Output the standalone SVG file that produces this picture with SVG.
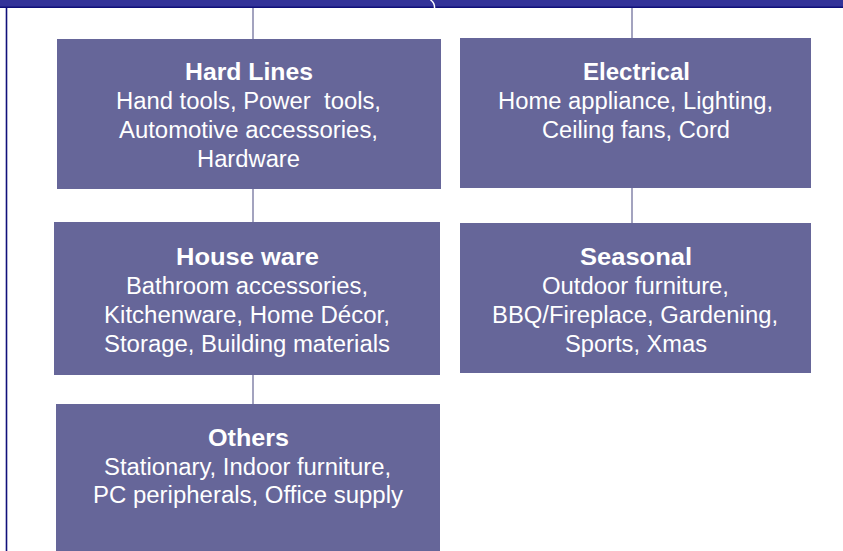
<svg xmlns="http://www.w3.org/2000/svg" width="843" height="551" viewBox="0 0 843 551">
<style>
.box{fill:#666699;}
.t{font-family:"Liberation Sans",Arial,sans-serif;fill:#ffffff;text-anchor:middle;}
.h{font-size:24px;font-weight:bold;}
.b{font-size:23px;}
.c{stroke:#8484aa;stroke-width:1.5;fill:none;}
</style>
<rect width="843" height="551" fill="#ffffff"/>
<g id="frame">
<rect x="0" y="0" width="843" height="7" fill="#333399"/>
<line x1="0" y1="7.2" x2="843" y2="7.2" stroke="#10107a" stroke-width="1.6"/>
<line x1="6.5" y1="7" x2="6.5" y2="551" stroke="#10107a" stroke-width="1.6"/>
<path d="M430.5,0 Q435,3 434.5,8.5" stroke="#ffffff" stroke-width="1.5" fill="none"/>
</g>
<g id="connectors">
<line class="c" x1="253" y1="8" x2="253" y2="39"/>
<line class="c" x1="253" y1="189" x2="253" y2="222"/>
<line class="c" x1="253" y1="375" x2="253" y2="404"/>
<line class="c" x1="632" y1="8" x2="632" y2="38"/>
<line class="c" x1="632" y1="188" x2="632" y2="223"/>
</g>
<g id="hardlines">
<rect class="box" x="57" y="39" width="384" height="150"/>
<text class="t h" x="249" y="80" textLength="128" lengthAdjust="spacingAndGlyphs">Hard Lines</text>
<text class="t b" x="248.5" y="109" textLength="265" lengthAdjust="spacingAndGlyphs" xml:space="preserve">Hand tools, Power  tools,</text>
<text class="t b" x="248.5" y="138" textLength="259" lengthAdjust="spacingAndGlyphs">Automotive accessories,</text>
<text class="t b" x="248.5" y="167" textLength="103" lengthAdjust="spacingAndGlyphs">Hardware</text>
</g>
<g id="electrical">
<rect class="box" x="460" y="38" width="351" height="150"/>
<text class="t h" x="636.5" y="80" textLength="107" lengthAdjust="spacingAndGlyphs">Electrical</text>
<text class="t b" x="635.5" y="109" textLength="275" lengthAdjust="spacingAndGlyphs">Home appliance, Lighting,</text>
<text class="t b" x="636" y="138" textLength="188" lengthAdjust="spacingAndGlyphs">Ceiling fans, Cord</text>
</g>
<g id="houseware">
<rect class="box" x="54" y="222" width="386" height="153"/>
<text class="t h" x="247.5" y="265" textLength="143" lengthAdjust="spacingAndGlyphs">House ware</text>
<text class="t b" x="247" y="294" textLength="242" lengthAdjust="spacingAndGlyphs">Bathroom accessories,</text>
<text class="t b" x="247" y="323" textLength="286" lengthAdjust="spacingAndGlyphs">Kitchenware, Home Décor,</text>
<text class="t b" x="247" y="352" textLength="286" lengthAdjust="spacingAndGlyphs">Storage, Building materials</text>
</g>
<g id="seasonal">
<rect class="box" x="460" y="223" width="351" height="150"/>
<text class="t h" x="636" y="265" textLength="112" lengthAdjust="spacingAndGlyphs">Seasonal</text>
<text class="t b" x="635.5" y="294" textLength="187" lengthAdjust="spacingAndGlyphs">Outdoor furniture,</text>
<text class="t b" x="635" y="323" textLength="286" lengthAdjust="spacingAndGlyphs">BBQ/Fireplace, Gardening,</text>
<text class="t b" x="636" y="352" textLength="142" lengthAdjust="spacingAndGlyphs">Sports, Xmas</text>
</g>
<g id="others">
<rect class="box" x="56" y="404" width="384" height="147"/>
<text class="t h" x="248.5" y="446" textLength="81" lengthAdjust="spacingAndGlyphs">Others</text>
<text class="t b" x="247.5" y="475" textLength="287" lengthAdjust="spacingAndGlyphs">Stationary, Indoor furniture,</text>
<text class="t b" x="248" y="503" textLength="310" lengthAdjust="spacingAndGlyphs">PC peripherals, Office supply</text>
</g>
</svg>
